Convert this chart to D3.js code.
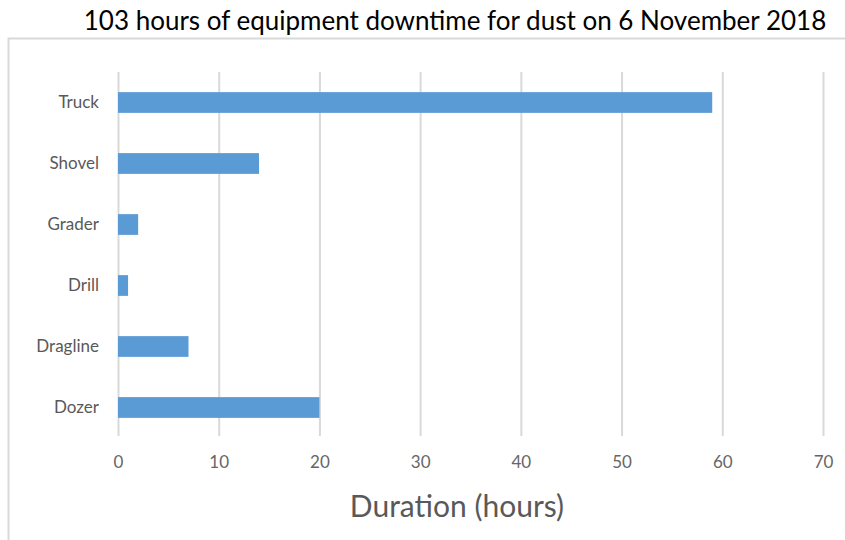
<!DOCTYPE html>
<html lang="en">
<head>
    <meta charset="UTF-8">
    <title>Equipment downtime</title>
    <script src="https://d3js.org/d3.v7.min.js"></script>
    <style>
        body { margin: 0; background: #fff; }
        svg { display: block; }
        .tick text { font-family: Lato, "Open Sans", sans-serif; }
    </style>
</head>
<body>
    <div id="chart"></div>
    <script>
        // data
        var equipment = ["Truck", "Shovel", "Grader", "Drill", "Dragline", "Dozer"];
        var hours = [59, 14, 2, 1, 7, 20];
        var xTicks = [0, 10, 20, 30, 40, 50, 60, 70];

        var svg = d3.select("#chart").append("svg")
            .attr("width", 845)
            .attr("height", 540);

        // chart area frame
        svg.append("rect")
            .attr("x", 8.5).attr("y", 38.5)
            .attr("width", 860).attr("height", 520)
            .attr("fill", "none")
            .attr("stroke", "#d9d9d9")
            .attr("stroke-width", 2);

        svg.append("text")
            .attr("x", 455)
            .attr("y", 30)
            .attr("text-anchor", "middle")
            .style("font-family", "Lato, 'Open Sans', sans-serif")
            .style("font-size", "26px")
            .style("fill", "#000")
            .text("103 hours of equipment downtime for dust on 6 November 2018");

        var x = d3.scaleLinear().domain([0, 70]).range([118, 823]);
        var y = d3.scaleBand().domain(equipment).range([72, 438])
            .paddingInner(0.66).paddingOuter(0.33);

        // vertical gridlines
        svg.append("g")
            .attr("transform", "translate(0,436)")
            .call(d3.axisBottom(x).tickValues(xTicks).tickSize(436 - 72).tickPadding(0))
            .call(function(g) {
                g.select(".domain").remove();
                g.selectAll(".tick line")
                    .attr("transform", "translate(0," + -(436 - 72) + ")")
                    .attr("stroke", "#d9d9d9")
                    .attr("stroke-width", 2);
                g.selectAll(".tick text").remove();
            });

        // x tick labels
        svg.append("g")
            .attr("transform", "translate(0,452)")
            .call(d3.axisBottom(x).tickValues(xTicks).tickSize(0).tickPadding(4))
            .call(function(g) {
                g.select(".domain").remove();
                g.selectAll(".tick text")
                    .style("font-size", "17px")
                    .attr("fill", "#666");
            });

        // category labels
        svg.append("g")
            .attr("transform", "translate(99,0)")
            .call(d3.axisLeft(y).tickSize(0).tickPadding(0))
            .call(function(g) {
                g.select(".domain").remove();
                g.selectAll(".tick text")
                    .style("font-size", "17px")
                    .attr("fill", "#595959");
            });

        svg.selectAll(".bar")
            .data(equipment)
            .enter().append("rect")
            .attr("class", "bar")
            .attr("x", x(0))
            .attr("y", function(d) { return y(d); })
            .attr("width", function(d, i) { return x(hours[i]) - x(0); })
            .attr("height", y.bandwidth())
            .attr("fill", "#5b9bd5");

        svg.append("text")
            .attr("x", 457)
            .attr("y", 517)
            .attr("text-anchor", "middle")
            .style("font-family", "Lato, 'Open Sans', sans-serif")
            .style("font-size", "30px")
            .style("fill", "#595959")
            .text("Duration (hours)");
    </script>
</body>
</html>
